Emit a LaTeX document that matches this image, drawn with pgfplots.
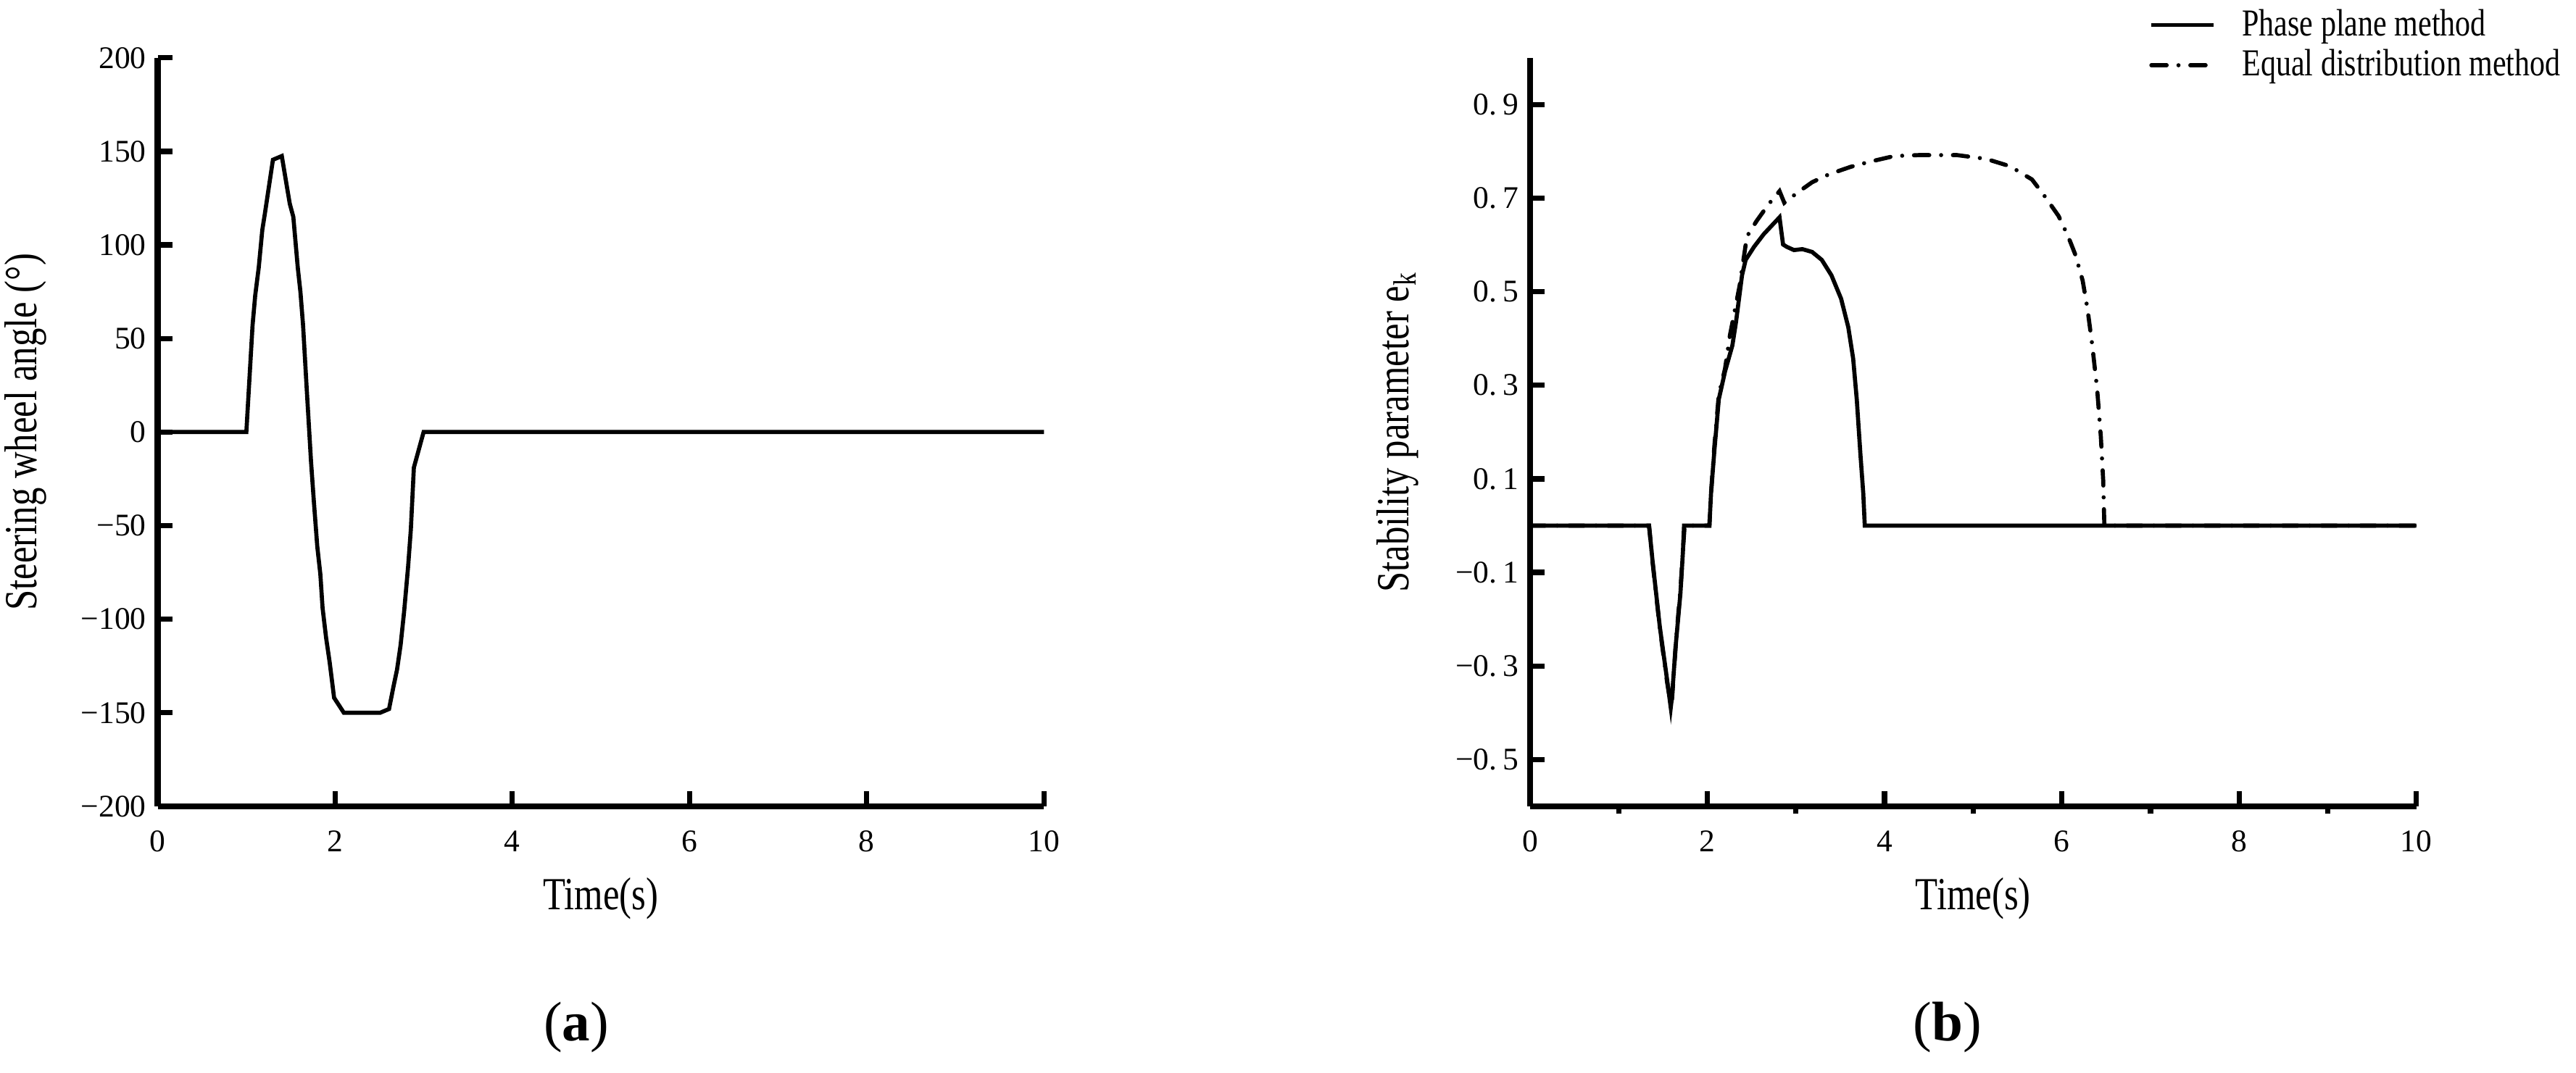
\documentclass[border=0pt]{standalone}
\usepackage{fontspec}
\setmainfont{Liberation Serif}
\newfontfamily\condfont{Liberation Serif}[FakeStretch=0.8]
\usepackage{pgfplots}
\pgfplotsset{compat=1.18}
\begin{document}
\begin{tikzpicture}
\useasboundingbox (0pt,0pt) rectangle (784pt,326.5pt);
\pgfplotsset{
  myaxis/.style={
    scale only axis,
    width=269.75pt, height=227.9pt,
    axis x line*=bottom, axis y line*=left,
    axis line style={line width=1.85pt,-},
    tick style={line width=1.6pt, black},
    tick align=inside,
    major tick length=4.5pt,
    /pgf/number format/assume math mode=true,
    ticklabel style={font=\fontsize{9.6}{11}\selectfont},
    xticklabel style={yshift=-4pt},
    label style={font=\condfont\fontsize{14}{16}\selectfont},
    xlabel style={at={(axis description cs:0.5,-0.123)}, anchor=center},
    ylabel style={at={(axis description cs:-0.149,0.5)}, anchor=center},
    xmin=0, xmax=10, xtick={0,2,4,6,8,10},
    clip=false,
  }
}
\begin{axis}[myaxis, at={(48pt,81pt)}, anchor=south west,
  ymin=-200, ymax=200, ytick={-200,-150,-100,-50,0,50,100,150,200},
  yticklabels={−200,−150,−100,−50,0,50,100,150,200},
  xlabel={Time(s)}, ylabel={Steering wheel angle (°)}]
\addplot[black, line width=1.25pt] coordinates {
(0,0) (1.0,0) (1.07,57) (1.10,73) (1.14,88) (1.18,108) (1.21,117) (1.30,145.5)
(1.40,147.5) (1.49,122) (1.53,115) (1.58,88) (1.61,75) (1.64,57) (1.68,24)
(1.73,-16) (1.76,-36) (1.80,-61) (1.835,-76) (1.86,-94) (1.90,-110) (1.94,-123)
(1.99,-142) (2.10,-150) (2.51,-150) (2.61,-148) (2.66,-136) (2.70,-127)
(2.74,-114) (2.78,-96) (2.825,-72) (2.856,-52) (2.89,-19) (3.0,0) (10,0)};
\end{axis}
\begin{axis}[myaxis, at={(465.65pt,81pt)}, anchor=south west,
  ymin=-0.6, ymax=1.0, ytick={-0.5,-0.3,-0.1,0.1,0.3,0.5,0.7,0.9},
  yticklabels={−0.\hspace{0.18em}5,−0.\hspace{0.18em}3,−0.\hspace{0.18em}1,0.\hspace{0.18em}1,0.\hspace{0.18em}3,0.\hspace{0.18em}5,0.\hspace{0.18em}7,0.\hspace{0.18em}9},
  extra x ticks={1,3,5,7,9}, extra x tick labels={},
  extra x tick style={tick align=outside, major tick length=2.3pt},
  xlabel={Time(s)}, ylabel={Stability parameter e\textsubscript{k}},
  legend style={draw=none, fill=none, inner sep=0pt,
    at={(0.698,1.07)}, anchor=north west,
    font=\condfont\fontsize{11.6}{13}\selectfont,
    nodes={inner sep=1pt}, row sep=0.7pt, column sep=7pt},
  legend cell align=left,
  legend image code/.code={\draw[#1] (0pt,0pt) -- (19pt,0pt);}]
\addplot[black, line width=1.25pt] coordinates {
(0,0) (1.343,0) (1.384,-0.078) (1.465,-0.217) (1.547,-0.33) (1.588,-0.389)
(1.602,-0.366) (1.643,-0.258) (1.697,-0.145) (1.725,-0.057) (1.738,0) (2.024,0)
(2.043,0.071) (2.08,0.16) (2.13,0.27) (2.201,0.33) (2.283,0.385) (2.324,0.435)
(2.392,0.535) (2.433,0.568) (2.528,0.596) (2.637,0.623) (2.815,0.659) (2.855,0.601)
(2.896,0.596) (2.978,0.589) (3.073,0.591) (3.183,0.585) (3.292,0.568) (3.401,0.535)
(3.51,0.485) (3.591,0.424) (3.646,0.357) (3.687,0.269) (3.728,0.152) (3.76,0.069)
(3.777,0) (10,0)};
\addlegendentry{Phase plane method}
\addplot[black, line width=1.25pt, line cap=round, dash pattern=on 4.65pt off 3.6pt on 0pt off 3.6pt] coordinates {
(0,0) (1.343,0) (1.384,-0.08) (1.465,-0.22) (1.547,-0.335) (1.595,-0.39) (1.61,-0.35)
(1.65,-0.24) (1.70,-0.13) (1.73,-0.04) (1.745,0) (2.024,0) (2.043,0.07) (2.08,0.17)
(2.13,0.28) (2.20,0.335) (2.256,0.407) (2.30,0.45) (2.365,0.513) (2.447,0.618)
(2.556,0.651) (2.692,0.687) (2.815,0.715) (2.869,0.69) (3.019,0.712) (3.183,0.734)
(3.373,0.751) (3.619,0.767) (3.837,0.778) (4.109,0.79) (4.382,0.792) (4.818,0.792)
(5.145,0.784) (5.418,0.768) (5.663,0.74) (5.8,0.706) (5.963,0.662) (6.072,0.618)
(6.153,0.579) (6.235,0.524) (6.29,0.463) (6.344,0.385) (6.399,0.291) (6.44,0.191)
(6.467,0.097) (6.48,0) (10,0)};
\addlegendentry{Equal distribution method}
\end{axis}
\node[font=\fontsize{17}{20}\selectfont] at (175.4pt,13.6pt) {(\textbf{a})};
\node[font=\fontsize{17}{20}\selectfont] at (592.7pt,13.6pt) {(\textbf{b})};
\end{tikzpicture}
\end{document}
